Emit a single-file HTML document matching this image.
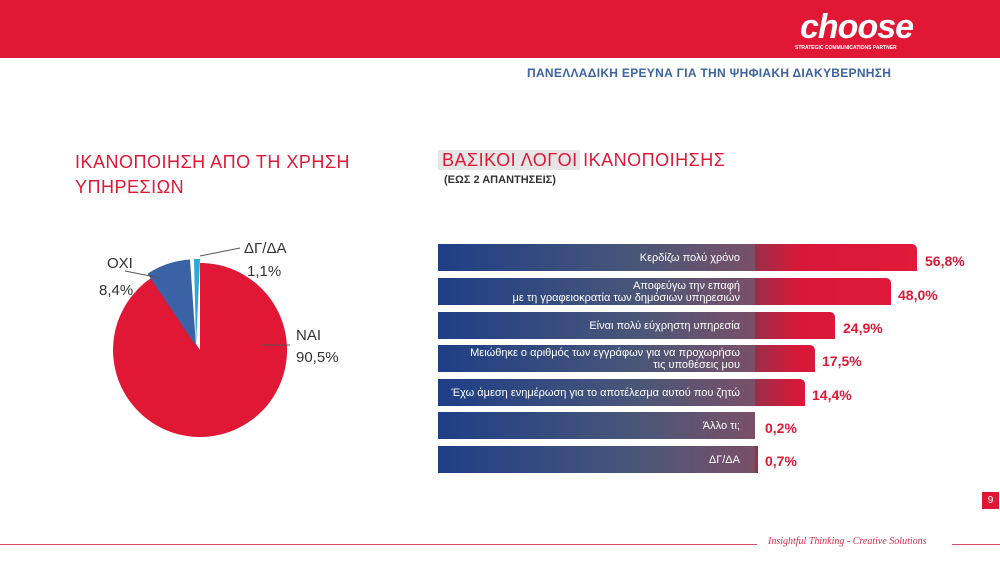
<!DOCTYPE html><html><head><meta charset="utf-8"><style>
body{margin:0;width:1000px;height:562px;position:relative;background:#fff;font-family:"Liberation Sans","DejaVu Sans",sans-serif;overflow:hidden}
.a{position:absolute}
.hdr{left:0;top:0;width:1000px;height:58px;background:#e01735}
.bar{position:absolute;left:438px;height:27px;border-radius:0 5px 0 0;background:linear-gradient(90deg,#1e3f86 0px,#4a5678 200px,#7a5068 317px,#9a2f48 317px,#d8183a 360px,#e01a38 480px)}
.lab{position:absolute;width:380px;text-align:right;color:#fff;font-size:11px;line-height:12px;white-space:nowrap}
.pct{position:absolute;color:#e01735;font-weight:bold;font-size:14px}
.t{color:#e01735;font-size:18px;letter-spacing:.5px}
</style></head><body>
<div class="a hdr"></div>
<div class="a" style="left:800px;top:8px;color:#fff;font-size:34px;font-style:italic;font-weight:bold;letter-spacing:-1px">choose</div>
<div class="a" style="left:795px;top:45px;color:#fff;font-size:5px;font-weight:bold">STRATEGIC COMMUNICATIONS PARTNER</div>
<div class="a" style="left:527px;top:66px;color:#3c63a2;font-size:12px;font-weight:bold;letter-spacing:.3px">ΠΑΝΕΛΛΑΔΙΚΗ ΕΡΕΥΝΑ ΓΙΑ ΤΗΝ ΨΗΦΙΑΚΗ ΔΙΑΚΥΒΕΡΝΗΣΗ</div>
<div class="a t" style="left:75px;top:150px;line-height:25px">ΙΚΑΝΟΠΟΙΗΣΗ ΑΠΟ ΤΗ ΧΡΗΣΗ<br>ΥΠΗΡΕΣΙΩΝ</div>
<div class="a" style="left:438px;top:150px;width:142px;height:20px;background:#e6e6e6"></div>
<div class="a t" style="left:442px;top:150px">ΒΑΣΙΚΟΙ ΛΟΓΟΙ ΙΚΑΝΟΠΟΙΗΣΗΣ</div>
<div class="a" style="left:444px;top:174px;font-size:11px;font-weight:bold;color:#333">(ΕΩΣ 2 ΑΠΑΝΤΗΣΕΙΣ)</div>
<svg class="a" style="left:0;top:0" width="420" height="480">
<path d="M200,350 L200,263 A87,87 0 1 1 151.5,277.8 Z" fill="#e01735"/>
<path d="M196,346 L147.5,273.8 A87,87 0 0 1 190,259.5 Z" fill="#3a62a5"/>
<path d="M196,346 L194,259 A87,87 0 0 1 200,259 Z" fill="#2aa9dc"/>
<line x1="125" y1="271" x2="160" y2="278" stroke="#555"/>
<line x1="200" y1="256" x2="240" y2="248" stroke="#555"/>
<line x1="262" y1="345" x2="290" y2="345" stroke="#555"/>
<g font-size="15" fill="#333" font-family="Liberation Sans,sans-serif">
<text x="107" y="268">ΟΧΙ</text><text x="99" y="295">8,4%</text>
<text x="244" y="253">ΔΓ/ΔΑ</text><text x="247" y="276">1,1%</text>
<text x="296" y="340">ΝΑΙ</text><text x="296" y="362">90,5%</text></g>
</svg>
<div class="bar" style="top:244px;width:479px"><div class="lab" style="top:8px;right:177px">Κερδίζω πολύ χρόνο</div></div>
<div class="pct" style="left:925px;top:253px">56,8%</div>
<div class="bar" style="top:278px;width:453px"><div class="lab" style="top:2px;right:151px">Αποφεύγω την επαφή<br>με τη γραφειοκρατία των δημόσιων υπηρεσιών</div></div>
<div class="pct" style="left:898px;top:287px">48,0%</div>
<div class="bar" style="top:312px;width:397px"><div class="lab" style="top:8px;right:95px">Είναι πολύ εύχρηστη υπηρεσία</div></div>
<div class="pct" style="left:843px;top:320px">24,9%</div>
<div class="bar" style="top:345px;width:377px"><div class="lab" style="top:2px;right:75px">Μειώθηκε ο αριθμός  των  εγγράφων για να προχωρήσω<br>τις υποθέσεις μου</div></div>
<div class="pct" style="left:822px;top:353px">17,5%</div>
<div class="bar" style="top:379px;width:367px"><div class="lab" style="top:8px;right:65px">Έχω άμεση ενημέρωση για το αποτέλεσμα αυτού που ζητώ</div></div>
<div class="pct" style="left:812px;top:387px">14,4%</div>
<div class="bar" style="top:412px;width:317px;border-radius:0"><div class="lab" style="top:8px;right:15px">Άλλο τι;</div></div>
<div class="pct" style="left:765px;top:420px">0,2%</div>
<div class="bar" style="top:446px;width:320px;border-radius:0"><div class="lab" style="top:8px;right:18px">ΔΓ/ΔΑ</div></div>
<div class="pct" style="left:765px;top:453px">0,7%</div>
<div class="a" style="left:982px;top:492px;width:17px;height:17px;background:#e01735;color:#fff;font-size:10px;text-align:center;line-height:17px">9</div>
<div class="a" style="left:0;top:544px;width:757px;height:1px;background:#d84a60"></div>
<div class="a" style="left:952px;top:544px;width:48px;height:1px;background:#d84a60"></div>
<div class="a" style="left:768px;top:536px;color:#d0304a;font-size:10px;font-style:italic;font-family:'Liberation Serif',serif">Insightful Thinking - Creative Solutions</div>
</body></html>
